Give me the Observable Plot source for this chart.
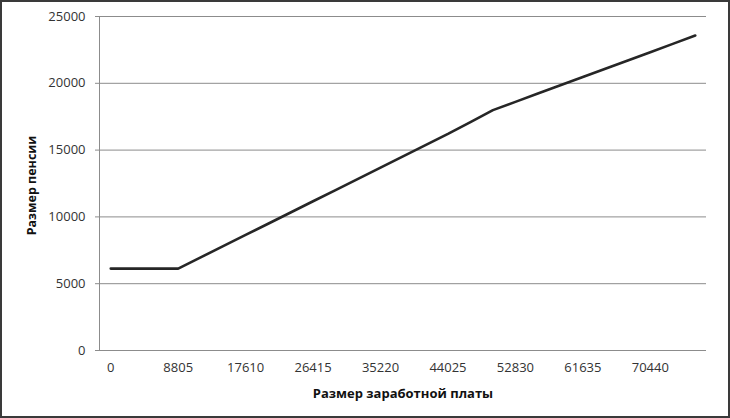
<!DOCTYPE html>
<html>
<head>
<meta charset="utf-8">
<script src="https://cdn.jsdelivr.net/npm/d3@7"></script>
<script src="https://cdn.jsdelivr.net/npm/@observablehq/plot@0.6"></script>
<style>
  body { margin: 0; background: #fff; }
  #wrap { position: relative; width: 730px; height: 418px; }
  #border { position: absolute; left: 0; top: 0; width: 730px; height: 418px; box-sizing: border-box; border: 2px solid #3a3a3a; pointer-events: none; }
  svg { display: block; }
</style>
</head>
<body>
<div id="wrap"><div id="border"></div></div>
<script>
const salary = [0, 2935, 5870, 8805, 11740, 14675, 17610, 20545, 23480, 26415, 29350, 32285, 35220, 38155, 41090, 44025, 46960, 49895, 52830, 55765, 58700, 61635, 64570, 67505, 70440, 73375, 76310];
const pension = [6130, 6130, 6130, 6130, 6970, 7810, 8650, 9490, 10330, 11170, 12010, 12850, 13690, 14530, 15370, 16210, 17100, 17990, 18610, 19230, 19850, 20470, 21090, 21710, 22330, 22950, 23580];
const xTickLabels = [0, 8805, 17610, 26415, 35220, 44025, 52830, 61635, 70440];
const yTicks = [0, 5000, 10000, 15000, 20000, 25000];
const xTitle = "Размер заработной платы";
const yTitle = "Размер пенсии";

const data = salary.map((s, i) => ({salary: s, pension: pension[i]}));
const font = "'Open Sans', sans-serif";

const chart = Plot.plot({
  width: 730,
  height: 418,
  marginLeft: 99,
  marginRight: 24,
  marginTop: 16,
  marginBottom: 68,
  style: {fontFamily: font, fontSize: "13px", color: "#333", background: "#fff"},
  x: {type: "point", domain: salary, padding: 0.5, round: false},
  y: {domain: [0, 25000]},
  marks: [
    Plot.ruleY(yTicks, {stroke: "#8c8c8c", strokeWidth: 1}),
    Plot.frame({anchor: "left", stroke: "#8c8c8c"}),
    Plot.axisY({ticks: yTicks, tickSize: 4, tickPadding: 10, stroke: "#8c8c8c", label: null, tickFormat: d => String(d), fill: "#333"}),
    Plot.axisX({ticks: xTickLabels, tickSize: 0, tickPadding: 12, label: null, tickFormat: d => String(d), fill: "#333"}),
    Plot.line(data, {x: "salary", y: "pension", stroke: "#262626", strokeWidth: 2.6}),
    Plot.text([yTitle], {frameAnchor: "left", textAnchor: "middle", lineAnchor: "middle", dx: -68, dy: 2, rotate: -90, fontWeight: "bold", fontSize: 12.5, fill: "#111"}),
    Plot.text([xTitle], {frameAnchor: "bottom", textAnchor: "middle", lineAnchor: "middle", dy: 43, fontWeight: "bold", fontSize: 13, fill: "#111"})
  ]
});
document.getElementById("wrap").prepend(chart);
</script>
</body>
</html>
